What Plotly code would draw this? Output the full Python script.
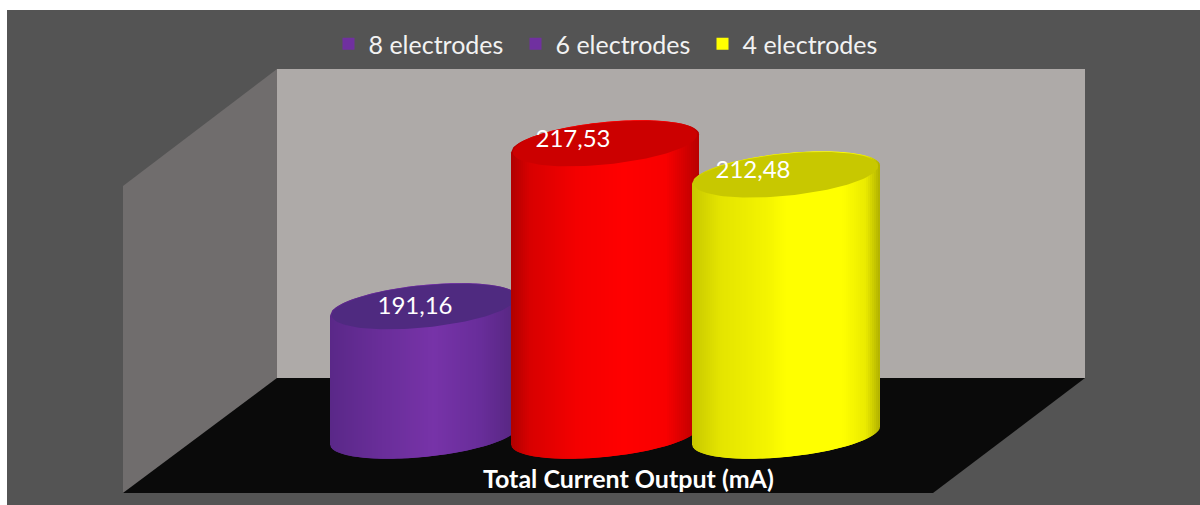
import numpy as np
import plotly.graph_objects as go

# ---- data ----
categories = ["8 electrodes", "6 electrodes", "4 electrodes"]
current_ma = [191.16, 217.53, 212.48]
value_labels = ["191,16", "217,53", "212,48"]
axis_title = "Total Current Output (mA)"
legend_colors = ["#7030A0", "#7030A0", "#FFFF00"]
top_colors = ["#4F2A80", "#CC0000", "#C8C800"]
side_stops = [
    [(-1, "#5A2888"), (-0.5, "#682D98"), (0.1, "#7733A8"), (0.6, "#682D9A"), (1, "#55267F")],
    [(-1, "#B00000"), (-0.8, "#D80000"), (-0.3, "#F40000"), (0.2, "#FF0000"), (0.65, "#F80000"), (1, "#B80000")],
    [(-1, "#C8C800"), (-0.7, "#E4E400"), (-0.2, "#F4F400"), (0.0, "#FFFF00"), (0.6, "#FFFF00"), (0.85, "#EAEA00"), (1, "#B0B000")],
]

# ---- page and axis set-up ----
W, H = 1200, 505
PX_PER_CAT, PX_PER_MA = 181.0, 6.18
X0_PX, Y0_PX, Y0_MA = 424.0, 306.5, current_ma[0]
x_range = [-X0_PX / PX_PER_CAT, (W - X0_PX) / PX_PER_CAT]
y_range = [Y0_MA - (H - Y0_PX) / PX_PER_MA, Y0_MA + Y0_PX / PX_PER_MA]

HALF_W = 94 / PX_PER_CAT
ELL_B = 21.5 / PX_PER_MA
ELL_K = 9 / PX_PER_MA
BASE_MA = 170.3
N = 94


def lerp_color(stops, u):
    for (u0, c0), (u1, c1) in zip(stops, stops[1:]):
        if u <= u1:
            f = (u - u0) / (u1 - u0)
            a = [int(c0[i:i + 2], 16) for i in (1, 3, 5)]
            b = [int(c1[i:i + 2], 16) for i in (1, 3, 5)]
            return "rgb(%d,%d,%d)" % tuple(round(p + (q - p) * f) for p, q in zip(a, b))
    return stops[-1][1]


def px(x):
    return x / W


def py(y):
    return 1 - y / H


def poly(points, fill, line=None):
    path = "M" + " L".join(f"{px(x):.5f},{py(y):.5f}" for x, y in points) + " Z"
    return dict(type="path", path=path, xref="paper", yref="paper", layer="below",
                fillcolor=fill, line=dict(color=line or fill, width=1 if line else 0))


fig = go.Figure()

for i, value in enumerate(current_ma):
    edges = np.linspace(-1, 1, N + 1)
    for j in range(N):
        u0, u1 = edges[j], edges[min(j + 2, N)]
        us = np.linspace(u0, u1, 5)
        root = np.sqrt(np.clip(1 - us ** 2, 0, 1))
        top = value + ELL_K * us + ELL_B * root
        bot = BASE_MA + ELL_K * us - ELL_B * root
        xs = np.concatenate([i + HALF_W * us, i + HALF_W * us[::-1]])
        ys = np.concatenate([top, bot[::-1]])
        fig.add_trace(go.Scatter(
            x=xs, y=ys, mode="lines", fill="toself", showlegend=False, hoverinfo="skip",
            line=dict(width=0),
            fillcolor=lerp_color(side_stops[i], 0.5 * (edges[j] + edges[j + 1])),
        ))
    # top face
    t = np.linspace(0, 2 * np.pi, 120)
    fx = i + 0.98 * HALF_W * np.cos(t)
    fy = value + 0.98 * ELL_K * np.cos(t) + 0.98 * ELL_B * np.sin(t)
    fig.add_trace(go.Scatter(
        x=fx, y=fy, mode="lines", fill="toself", showlegend=False, hoverinfo="skip",
        line=dict(width=0), fillcolor=top_colors[i],
    ))

# value labels (sit on the top faces)
label_dx = [-9 / PX_PER_CAT, -32 / PX_PER_CAT, -33 / PX_PER_CAT]
label_up = [-1 / PX_PER_MA, 3 / PX_PER_MA, 2.5 / PX_PER_MA]
fig.add_trace(go.Scatter(
    x=[k + d for k, d in enumerate(label_dx)],
    y=[v + u for v, u in zip(current_ma, label_up)],
    mode="text", text=value_labels, textposition="middle center",
    textfont=dict(family="Lato", size=24, color="white"),
    showlegend=False, hoverinfo="skip",
))

# legend entries
for name, color in zip(categories, legend_colors):
    fig.add_trace(go.Scatter(
        x=[None], y=[None], mode="markers", name=name,
        marker=dict(symbol="square", size=13, color=color),
    ))

shapes = [
    dict(type="rect", xref="paper", yref="paper", layer="below",
         x0=px(7), x1=1, y0=0, y1=py(10), fillcolor="#545454", line_width=0),
    poly([(123, 186), (277, 69), (277, 378), (123, 493)], "#706D6D"),
    poly([(277, 378), (1085, 378), (933, 493), (123, 493)], "#0A0A0A"),
    poly([(277, 69), (1085, 69), (1085, 378), (277, 378)], "#AEAAA8"),
]

fig.update_layout(
    width=W, height=H, margin=dict(l=0, r=0, t=0, b=0, pad=0),
    paper_bgcolor="white", plot_bgcolor="rgba(0,0,0,0)",
    shapes=shapes,
    xaxis=dict(range=x_range, visible=False, fixedrange=True),
    yaxis=dict(range=y_range, visible=False, fixedrange=True),
    legend=dict(
        orientation="h", x=0.5075, xanchor="center", y=py(44), yanchor="middle",
        font=dict(family="Lato", size=25, color="#F2F2F2"),
        bgcolor="rgba(0,0,0,0)", itemsizing="constant",
        entrywidth=142, entrywidthmode="pixels", traceorder="normal",
    ),
    annotations=[dict(
        text=f"<b>{axis_title}</b>", xref="paper", yref="paper",
        x=px(628), y=py(478), xanchor="center", yanchor="middle", showarrow=False,
        font=dict(family="Lato", size=25, color="white"),
    )],
)

fig.write_html("out.html", config={"displayModeBar": False},
               post_script="document.body.style.margin='0';document.body.style.overflow='hidden';")
